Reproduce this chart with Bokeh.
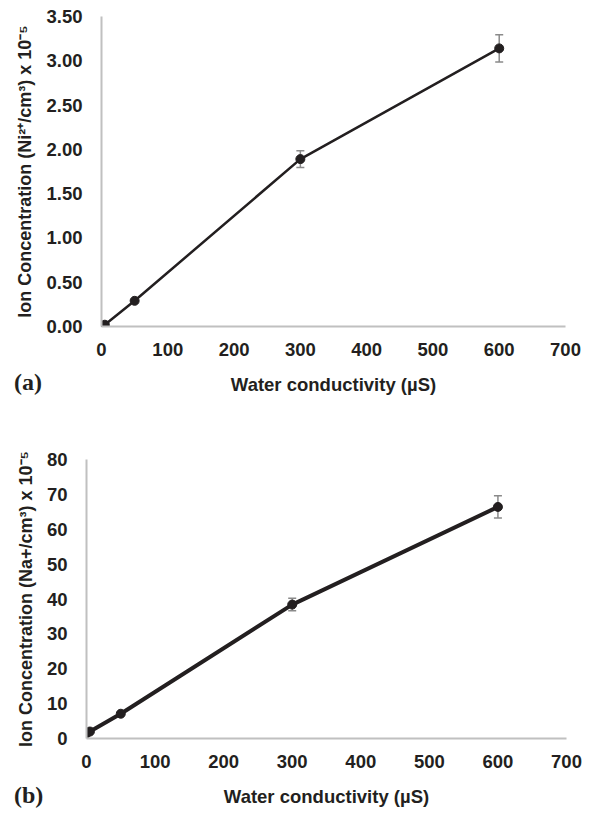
from bokeh.plotting import figure
from bokeh.models import ColumnDataSource, Whisker, TeeHead, FixedTicker, NumeralTickFormatter, Range1d, Div
from bokeh.embed import file_html
from bokeh.resources import INLINE

# ---- data ----
conductivity = [1, 5, 50, 300, 600]
ni_conc = [0.005, 0.02, 0.29, 1.89, 3.14]
ni_err = [0.0, 0.0, 0.0, 0.095, 0.155]
na_conc = [1.6, 2.0, 7.1, 38.4, 66.4]
na_err = [0.0, 0.0, 0.0, 1.8, 3.2]
x_ticks = [0, 100, 200, 300, 400, 500, 600, 700]
ni_ticks = [0, 0.5, 1.0, 1.5, 2.0, 2.5, 3.0, 3.5]
na_ticks = [0, 10, 20, 30, 40, 50, 60, 70, 80]

TXT = "#231f20"
AX = "#c0c0c0"
FONT = "Liberation Sans"


def make_panel(y, err, yticks, ymax, ylabel, h, top, bottom, left, right, lw, fmt):
    p = figure(width=592, height=h, output_backend="svg", toolbar_location=None,
               x_range=Range1d(0, 700), y_range=Range1d(0, ymax),
               min_border_left=left, min_border_right=right,
               min_border_top=top, min_border_bottom=bottom)
    p.outline_line_color = None
    p.xgrid.visible = False
    p.ygrid.visible = False
    for ax in (p.xaxis[0], p.yaxis[0]):
        ax.axis_line_color = AX
        ax.axis_line_width = 2
        ax.major_tick_line_color = None
        ax.minor_tick_line_color = None
        ax.major_label_text_font = FONT
        ax.major_label_text_font_style = "bold"
        ax.major_label_text_font_size = "18.5px"
        ax.major_label_text_color = TXT
        ax.axis_label_text_font = FONT
        ax.axis_label_text_font_style = "bold"
        ax.axis_label_text_color = TXT
    p.yaxis.major_label_standoff = 13
    p.xaxis.major_label_standoff = 10
    p.xaxis.axis_label_text_font_size = "18.5px"
    p.yaxis.axis_label_text_font_size = "18px"
    p.xaxis.ticker = FixedTicker(ticks=x_ticks)
    p.yaxis.ticker = FixedTicker(ticks=yticks)
    p.yaxis.formatter = NumeralTickFormatter(format=fmt)
    p.xaxis.axis_label = "Water conductivity (µS)"
    p.yaxis.axis_label = ylabel
    p.xaxis.axis_label_standoff = 15
    p.yaxis.axis_label_standoff = 8

    lower = [v - e for v, e in zip(y, err)]
    upper = [v + e for v, e in zip(y, err)]
    src = ColumnDataSource(dict(x=conductivity, y=y, lower=lower, upper=upper))
    w = Whisker(base="x", upper="upper", lower="lower", source=src,
                line_color="#8a8a8a", line_width=1.5,
                upper_head=TeeHead(size=8, line_color="#8a8a8a", line_width=1.5),
                lower_head=TeeHead(size=8, line_color="#8a8a8a", line_width=1.5))
    p.add_layout(w)
    p.line("x", "y", source=src, line_color=TXT, line_width=lw)
    p.scatter("x", "y", source=src, size=9, color=TXT)
    return p


def make_tag(text, left, top):
    return Div(text=text, width=50, height=32, margin=0,
               styles={"position": "absolute", "left": f"{left}px", "top": f"{top}px",
                       "font-family": "Liberation Serif", "font-weight": "bold",
                       "font-size": "24px", "color": TXT})


pa = make_panel(ni_conc, ni_err, ni_ticks, 3.5,
                "Ion Concentration (Ni²⁺/cm³) x 10⁻⁵",
                400, 16, 74, 101, 27, 2.5, "0.00")
pb = make_panel(na_conc, na_err, na_ticks, 80,
                "Ion Concentration (Na+/cm³) x 10⁻⁵",
                414, 59, 76, 86, 26, 4, "0")

tag_a = make_tag("(a)", 14, 365)
tag_b = make_tag("(b)", 14, 778)

open("out.html", "w").write(file_html([pa, pb, tag_a, tag_b], INLINE))
